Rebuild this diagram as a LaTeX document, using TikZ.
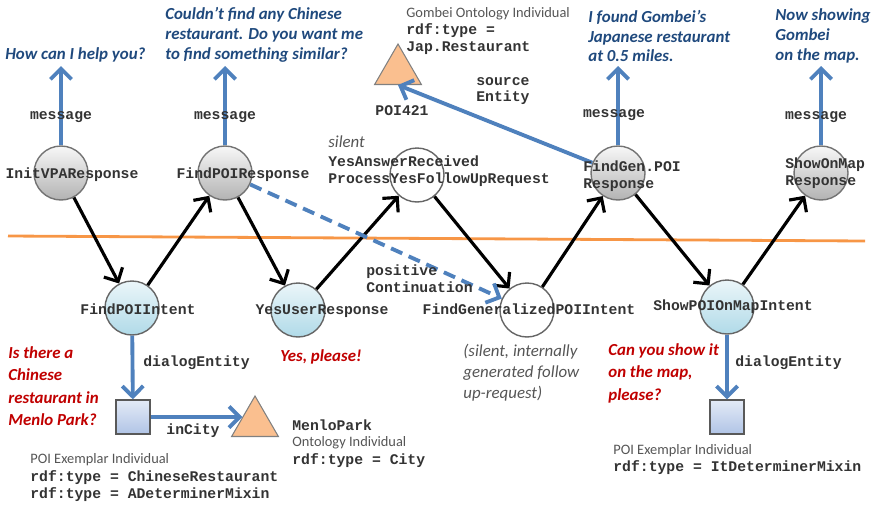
\documentclass[tikz,border=0pt]{standalone}
\usepackage{fontspec}
\setmainfont{Carlito}
\setmonofont{Liberation Mono}
\usetikzlibrary{arrows.meta, shapes.geometric, positioning}

\definecolor{msgBlue}{RGB}{79,129,189}
\definecolor{sayBlue}{RGB}{31,73,125}
\definecolor{userRed}{RGB}{192,0,0}
\definecolor{noteGray}{RGB}{85,85,85}
\definecolor{lineOrange}{RGB}{247,150,70}
\definecolor{poiOrange}{RGB}{250,191,143}
\definecolor{intentCyan}{RGB}{176,218,232}
\definecolor{exemplarBlue}{RGB}{176,196,230}

\tikzset{
  respnode/.style={circle, draw=black!55, line width=0.8pt, minimum size=1.08cm, inner sep=0pt, top color=black!3, bottom color=black!30},
  intentnode/.style={circle, draw=black!60, line width=0.8pt, minimum size=1.08cm, inner sep=0pt, top color=intentCyan!25, bottom color=intentCyan},
  silentnode/.style={circle, draw=black!60, line width=0.8pt, minimum size=1.08cm, inner sep=0pt, fill=white},
  exemplar/.style={rectangle, draw=black!65, line width=0.8pt, minimum size=0.68cm, inner sep=0pt, top color=exemplarBlue!35, bottom color=exemplarBlue},
  ontology/.style={regular polygon, regular polygon sides=3, draw=black!50, line width=0.6pt, minimum size=1.08cm, inner sep=0pt, fill=poiOrange},
  flow/.style={line width=1.8pt, -{Straight Barb[length=6pt, width=12pt]}},
  link/.style={draw=msgBlue, line width=2.2pt, -{Straight Barb[length=6pt, width=12pt]}},
  code/.style={font=\ttfamily\bfseries\fontsize{8.4}{9.6}\selectfont, text=black!80, inner sep=0pt, align=left},
  kind/.style={font=\fontsize{8.2}{10}\selectfont, text=noteGray, inner sep=0pt, anchor=west},
  say/.style={font=\bfseries\itshape\fontsize{9.6}{11.3}\selectfont, text=sayBlue, inner sep=0pt, align=left, anchor=west},
  user/.style={font=\bfseries\itshape\fontsize{9.6}{12.8}\selectfont, text=userRed, inner sep=0pt, align=left, anchor=west},
  note/.style={font=\itshape\fontsize{9.6}{12}\selectfont, text=noteGray, inner sep=0pt, align=left, anchor=west}
}

\begin{document}
\begin{tikzpicture}[x=0.02cm, y=-0.02cm]
  \useasboundingbox (0,0) rectangle (874,507);

  % system / user boundary
  \draw[lineOrange, line width=1.6pt] (8,236) -- (865,241);

  % responses (top row) and intents (bottom row)
  \node[respnode] (initresp) at (61,173) {};
  \node[respnode] (poiresp) at (225,173) {};
  \node[silentnode] (yesans) at (417,175) {};
  \node[respnode] (genresp) at (618,173) {};
  \node[respnode] (mapresp) at (821,173) {};
  \node[intentnode] (poiint) at (132,308) {};
  \node[intentnode] (yesuser) at (298,310) {};
  \node[silentnode] (genint) at (527,310) {};
  \node[intentnode] (mapint) at (727,307) {};

  % entities
  \node[ontology] (poi421) at (398,71) {};
  \node[ontology] (menlo) at (255,423) {};
  \node[exemplar] (chinese) at (133,417) {};
  \node[exemplar] (itmixin) at (727,417) {};

  % dialog flow
  \draw[flow] (initresp) -- (poiint);
  \draw[flow] (poiint) -- (poiresp);
  \draw[flow] (poiresp) -- (yesuser);
  \draw[flow] (yesuser) -- (yesans);
  \draw[flow] (yesans) -- (genint);
  \draw[flow] (genint) -- (genresp);
  \draw[flow] (genresp) -- (mapint);
  \draw[flow] (mapint) -- (mapresp);
  \draw[link, dash pattern=on 7pt off 4pt] (poiresp) -- (genint);

  % messages going out
  \coordinate (initout) at (61,66);
  \coordinate (poiout) at (225,66);
  \coordinate (genout) at (618,66);
  \coordinate (mapout) at (821,66);
  \draw[link] (initresp) -- (initout);
  \draw[link] (poiresp) -- (poiout);
  \draw[link] (genresp) -- (genout);
  \draw[link] (mapresp) -- (mapout);
  \node[code] (initmsg) at (61,117) {message};
  \node[code] (poimsg) at (225,117) {message};
  \node[code] (genmsg) at (614,115) {message};
  \node[code] (mapmsg) at (816,117) {message};

  % entity links
  \draw[link] (genresp) -- (poi421.south);
  \draw[link] (poiint) -- (chinese);
  \draw[link] (chinese.east) -- ([xshift=2pt]chinese.east -| menlo.west);
  \draw[link] (mapint) -- (itmixin);

  % node names
  \node[code] (initlbl) at (72,175) {InitVPAResponse};
  \node[code] (poilbl) at (243,175) {FindPOIResponse};
  \node[note] (silent) at (328,142) {silent};
  \node[code, anchor=west] (yesanslbl) at (328,171) {YesAnswerReceived\\ProcessYesFollowUpRequest};
  \node[code, anchor=west] (genlbl) at (583,176) {FindGen.POI\\Response};
  \node[code, anchor=west] (maplbl) at (785,173) {ShowOnMap\\Response};
  \node[code] (poiintlbl) at (138,309) {FindPOIIntent};
  \node[code] (yesuserlbl) at (322,311) {YesUserResponse};
  \node[code] (genintlbl) at (529,309) {FindGeneralizedPOIIntent};
  \node[code] (mapintlbl) at (733,307) {ShowPOIOnMapIntent};

  % edge names
  \node[code, anchor=west] (poscont) at (366,279) {positive\\Continuation};
  \node[code, anchor=west] (srcent) at (476,91) {source\\Entity};
  \node[code, anchor=west] (dlgleft) at (143,363) {dialogEntity};
  \node[code, anchor=west] (dlgright) at (735,363) {dialogEntity};
  \node[code] (incity) at (193,431) {inCity};

  % entity descriptions
  \node[code] (poi421lbl) at (402,111) {POI421};
  \node[kind] (gombeikind) at (406,14) {Gombei Ontology Individual};
  \node[code, anchor=west] (gombeitype) at (406,39.5) {rdf:type =\\Jap.Restaurant};
  \node[code, anchor=west] (menloname) at (292,425) {MenloPark};
  \node[kind] (menlokind) at (292,443) {Ontology Individual};
  \node[code, anchor=west] (menlotype) at (292,461) {rdf:type = City};
  \node[kind] (chinesekind) at (30,460) {POI Exemplar Individual};
  \node[code, anchor=west] (chinesetype) at (30,486) {rdf:type = ChineseRestaurant\\rdf:type = ADeterminerMixin};
  \node[kind] (itkind) at (613,451) {POI Exemplar Individual};
  \node[code, anchor=west] (ittype) at (613,468) {rdf:type = ItDeterminerMixin};

  % what the assistant says
  \node[say] (sayhello) at (5,55) {How can I help you?};
  \node[say] (saynone) at (165,35) {Couldn’t find any Chinese\\restaurant. Do you want me\\to find something similar?};
  \node[say] (sayfound) at (588,36) {I found Gombei’s\\Japanese restaurant\\at 0.5 miles.};
  \node[say] (saymap) at (775,36) {Now showing\\Gombei\\on the map.};

  % what the user says
  \node[user] (askpoi) at (8,386) {Is there a\\Chinese\\restaurant in\\Menlo Park?};
  \node[user] (askyes) at (280,357) {Yes, please!};
  \node[user] (askmap) at (608,373) {Can you show it\\on the map,\\please?};
  \node[note] (silentnote) at (463,373) {(silent, internally\\generated follow\\up-request)};
\end{tikzpicture}
\end{document}
